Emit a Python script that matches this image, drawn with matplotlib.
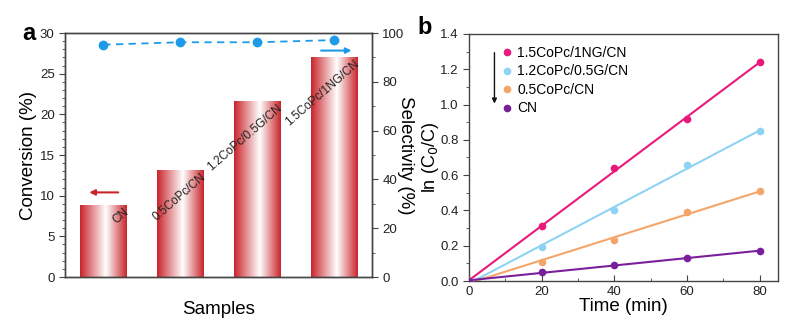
import numpy as np
import matplotlib
matplotlib.use('Agg')
import matplotlib.pyplot as plt
from matplotlib.colors import LinearSegmentedColormap
from matplotlib.ticker import MultipleLocator

plt.rcParams['font.family'] = ['Liberation Sans', 'DejaVu Sans']

# panel a
samples     = ['CN', '0.5CoPc/CN', '1.2CoPc/0.5G/CN', '1.5CoPc/1NG/CN']
conversion  = [8.8, 13.1, 21.6, 27.1]
selectivity = [95.2, 96.2, 96.2, 97.1]

# panel b
time_min   = [0, 20, 40, 60, 80]
series_b   = ['1.5CoPc/1NG/CN', '1.2CoPc/0.5G/CN', '0.5CoPc/CN', 'CN']
ln_1p5     = [0.0, 0.31, 0.64, 0.92, 1.24]
ln_1p2     = [0.0, 0.19, 0.40, 0.66, 0.85]
ln_0p5     = [0.0, 0.11, 0.23, 0.39, 0.51]
ln_cn      = [0.0, 0.05, 0.09, 0.13, 0.17]
colors_b   = ['#e8197a', '#8fd3f4', '#f4a66a', '#7a1f9c']

spine_col = '#444444'
red       = '#c9242b'
blue      = '#1e9be8'
tick_fs   = 9.5
label_fs  = 13.5

fig = plt.figure(figsize=(8.01, 3.32), dpi=100)
ax  = fig.add_axes([65 / 801, 1 - 277 / 332, 307 / 801, 244 / 332])
ax2 = ax.twinx()

# gradient bars: red edges fading to white a bit right of centre
grad_cmap = LinearSegmentedColormap.from_list(
    'g', [(0.0, red), (0.55, '#ffffff'), (1.0, red)])
gradient  = np.linspace(0, 1, 256).reshape(1, -1)
width     = 0.6
bars = ax.bar(range(len(samples)), conversion, width=width, color='none',
              edgecolor='none', zorder=2)
for bar in bars:
    x0 = bar.get_x()
    h  = bar.get_height()
    im = ax.imshow(gradient, cmap=grad_cmap, aspect='auto',
                   extent=[x0, x0 + width, 0, h], zorder=2)
    im.set_clip_path(bar)

for i, (name, h) in enumerate(zip(samples, conversion)):
    ax.text(i + 0.26, h - 0.1, name, rotation=41, rotation_mode='anchor',
            ha='right', va='top', fontsize=8.5, color='#222222', zorder=4)

ax.set_xlim(-0.5, 3.5)
ax.set_ylim(0, 30)
ax.set_xticks([])
ax.yaxis.set_major_locator(MultipleLocator(5))
ax.yaxis.set_minor_locator(MultipleLocator(1))
ax.set_ylabel('Conversion (%)', fontsize=label_fs, va='center')
ax.yaxis.set_label_coords(-0.12, 0.5)
ax.set_xlabel('Samples', fontsize=label_fs, labelpad=17)

ax2.plot(range(len(samples)), selectivity, '--o', color=blue, lw=1.3,
         markersize=6, dashes=(4, 3), zorder=3)
ax2.set_ylim(0, 100)
ax2.yaxis.set_major_locator(MultipleLocator(20))
ax2.yaxis.set_minor_locator(MultipleLocator(10))
ax2.set_ylabel('Selectivity (%)', fontsize=label_fs, rotation=270,
               va='center')
ax2.yaxis.set_label_coords(1.11, 0.5)

ax.annotate('', xy=(-0.22, 10.4), xytext=(0.23, 10.4),
            arrowprops=dict(arrowstyle='-|>', color=red, lw=1.5,
                            mutation_scale=8))
ax2.annotate('', xy=(3.27, 92.8), xytext=(2.8, 92.8),
             arrowprops=dict(arrowstyle='-|>', color=blue, lw=1.5,
                             mutation_scale=8))

for a in (ax, ax2):
    for s in a.spines.values():
        s.set_color(spine_col)
        s.set_linewidth(1.0)
    a.tick_params(which='both', direction='out', colors=spine_col,
                  labelcolor='#222222', labelsize=tick_fs)
    a.tick_params(which='major', length=4)
    a.tick_params(which='minor', length=2)

fig.text(29 / 801, 1 - 33 / 332, 'a', fontsize=17, fontweight='bold',
         va='center', ha='center')

# panel b
bx = fig.add_axes([469 / 801, 1 - 281 / 332, 309 / 801, 247 / 332])
t = np.array(time_min, dtype=float)
for name, vals, col in zip(series_b, [ln_1p5, ln_1p2, ln_0p5, ln_cn], colors_b):
    bx.plot(t, vals, 'o', color=col, markersize=4.5, label=name, zorder=3)
    k, b = np.polyfit(t, vals, 1)
    tt = np.linspace(0, 80, 50)
    bx.plot(tt, k * tt + b, '-', color=col, lw=1.5, zorder=2)

bx.set_xlim(0, 85)
bx.set_ylim(0, 1.4)
bx.xaxis.set_major_locator(MultipleLocator(20))
bx.xaxis.set_minor_locator(MultipleLocator(10))
bx.yaxis.set_major_locator(MultipleLocator(0.2))
bx.yaxis.set_minor_locator(MultipleLocator(0.1))
bx.set_xlabel('Time (min)', fontsize=label_fs, labelpad=0)
bx.set_ylabel('ln (C$_0$/C)', fontsize=13, va='center')
bx.yaxis.set_label_coords(-0.125, 0.5)
for s in bx.spines.values():
    s.set_color(spine_col)
    s.set_linewidth(1.0)
bx.tick_params(axis='y', which='both', direction='out')
bx.tick_params(axis='x', which='both', direction='in')
bx.tick_params(which='both', colors=spine_col, labelcolor='#222222',
               labelsize=tick_fs)
bx.tick_params(which='major', length=4)
bx.tick_params(which='minor', length=2)

leg = bx.legend(loc='upper left', bbox_to_anchor=(0.07, 0.985), frameon=False,
                fontsize=10, handletextpad=0.1, handlelength=1.2,
                labelspacing=0.32, borderaxespad=0.2)
bx.annotate('', xy=(7, 0.99), xytext=(7, 1.31),
            arrowprops=dict(arrowstyle='-|>', color='#111111', lw=1.0,
                            mutation_scale=7))

fig.text(425 / 801, 1 - 28 / 332, 'b', fontsize=17, fontweight='bold',
         va='center', ha='center')

fig.savefig('out.png', dpi=100)
